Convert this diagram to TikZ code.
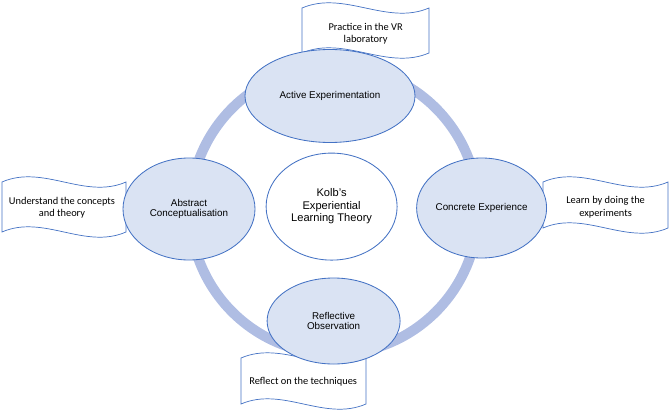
\documentclass[tikz,border=0pt]{standalone}
\usepackage{fontspec}
\setmainfont{Liberation Sans}
\newfontfamily\flagfont{Carlito}
\usetikzlibrary{shapes.geometric}
\definecolor{ringblue}{HTML}{AFBDE3}
\definecolor{stagefill}{HTML}{DAE3F3}
\definecolor{stageline}{HTML}{4472C4}
% wave shaped banner: top left x, top y, right x, bottom y
\newcommand{\waveflag}[4]{%
  \filldraw[flagline] (#1,#2) .. controls +({(#3-#1)/3},0.45) and +({-(#3-#1)/3},-0.45) .. (#3,#2)
    -- (#3,#4) .. controls +({-(#3-#1)/3},-0.45) and +({(#3-#1)/3},0.45) .. (#1,#4) -- cycle;}
\begin{document}
\begin{tikzpicture}[
  stage/.style={ellipse,draw=stageline,fill=stagefill,line width=0.6pt,inner sep=0pt,align=center,font=\fontsize{7}{7.4}\selectfont},
  theory/.style={ellipse,draw=stageline,fill=white,line width=0.6pt,inner sep=0pt,align=center,font=\fontsize{7.9}{8.9}\selectfont},
  flagline/.style={draw=stageline,fill=white,line width=0.5pt},
  flagtext/.style={align=center,inner sep=0pt,font=\flagfont\fontsize{7.4}{9}\selectfont}]
\useasboundingbox (0,0) rectangle (16.725,10.325);
% Learning cycle ring
\draw[ringblue,line width=7.2pt] (8.35,5.075) circle (3.6);
% Banners behind the stages
\waveflag{7.55}{10.125}{10.725}{9.0}
\waveflag{13.575}{5.775}{16.7}{4.625}
\waveflag{0.05}{5.775}{3.15}{4.525}
\waveflag{6.025}{1.375}{9.15}{0.225}
\node[flagtext] (practice) at (9.14,9.48) {Practice in the VR\\laboratory};
\node[flagtext] (learn) at (15.14,5.15) {Learn by doing the\\experiments};
\node[flagtext] (understand) at (1.55,5.13) {Understand the concepts\\and theory};
\node[flagtext] (reflect) at (7.58,0.78) {Reflect on the techniques};
% Four stages
\node[stage,minimum width=4.25cm,minimum height=2.325cm] (active) at (8.25,7.925) {Active Experimentation};
\node[stage,minimum width=3.3cm,minimum height=2.55cm] (abstract) at (4.725,5.1) {Abstract\\Conceptualisation};
\node[stage,minimum width=3.075cm,minimum height=2.5cm] (concrete) at (12.04,5.125) {Concrete Experience};
\node[stage,minimum width=3.325cm,minimum height=2.15cm] (reflective) at (8.34,2.3) {Reflective\\Observation};
% Centre
\node[theory,minimum width=3.275cm,minimum height=2.675cm] (kolb) at (8.29,5.16) {Kolb's\\Experiential\\Learning Theory};
\end{tikzpicture}
\end{document}
